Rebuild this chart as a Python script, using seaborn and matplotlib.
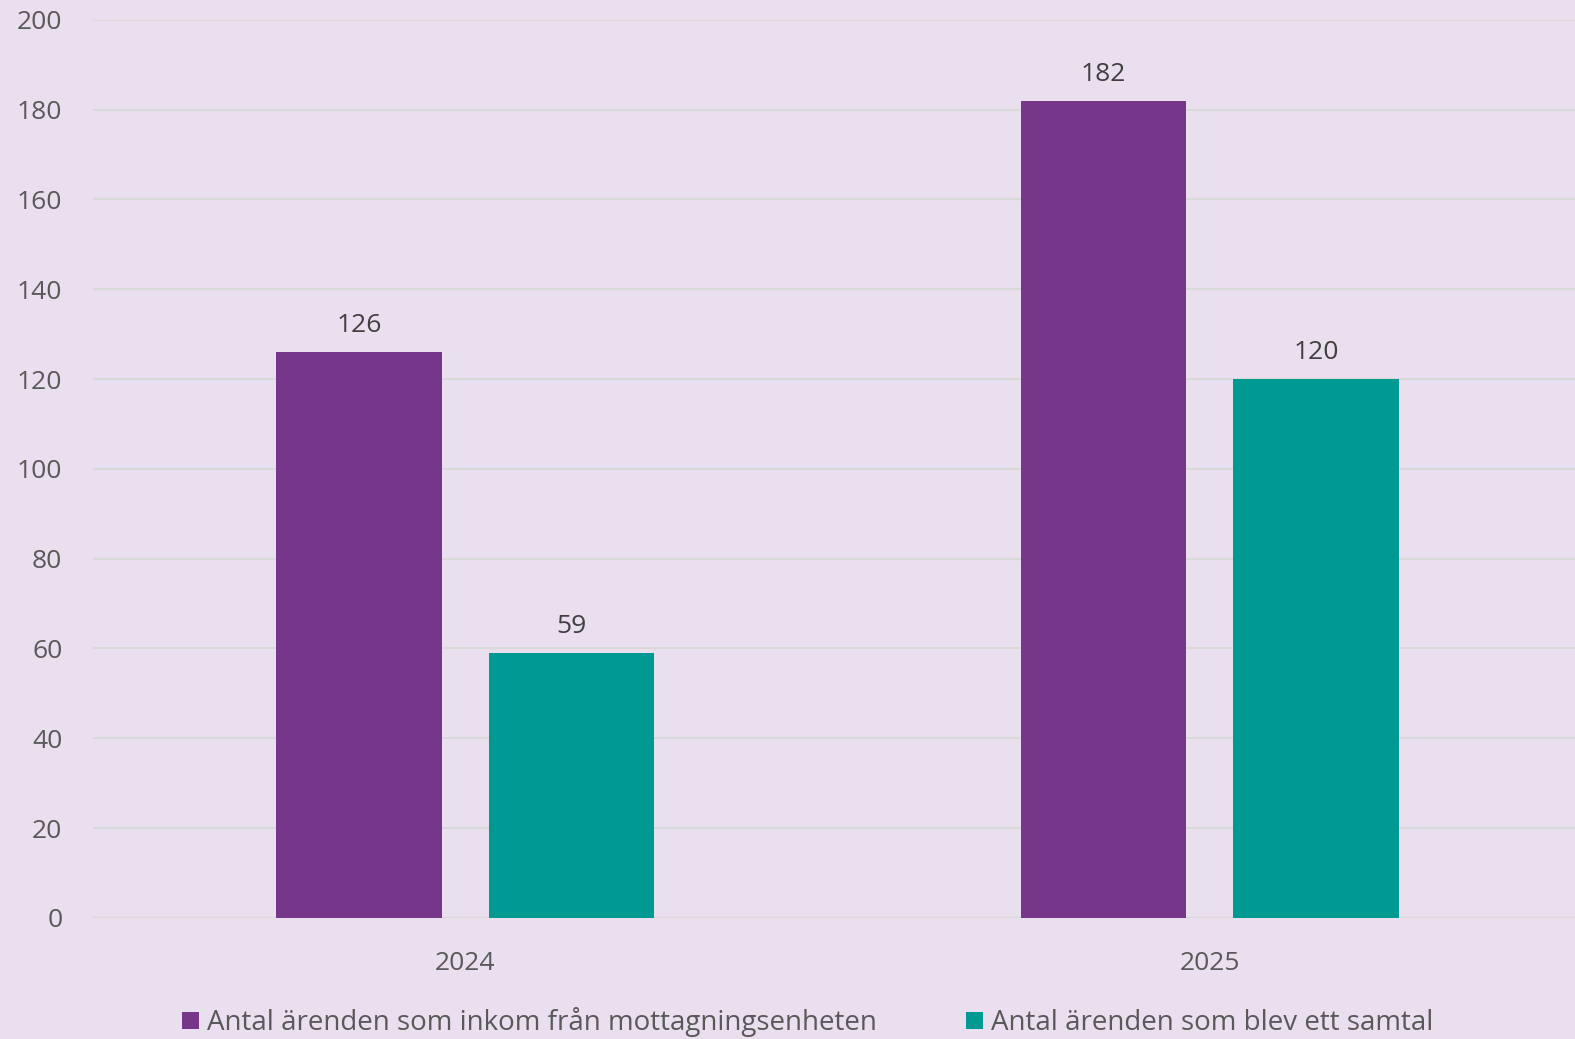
import matplotlib
matplotlib.use("Agg")
import matplotlib.pyplot as plt
import pandas as pd
import seaborn as sns

# data
years = ["2024", "2025"]
series_names = ["Antal ärenden som inkom från mottagningsenheten", "Antal ärenden som blev ett samtal"]
inkom = [126, 182]
samtal = [59, 120]
yticks = [0, 20, 40, 60, 80, 100, 120, 140, 160, 180, 200]

BG = "#E9DFEE"
PURPLE = "#76368A"
TEAL = "#009A93"
GRID = "#D9D9D9"
INK = "#595959"
LABEL_INK = "#404040"

df = pd.DataFrame({
    "year": years * 2,
    "serie": [series_names[0]] * 2 + [series_names[1]] * 2,
    "value": inkom + samtal,
})

sns.set_theme(style="white")
plt.rcParams["font.family"] = ["Open Sans", "DejaVu Sans"]

fig = plt.figure(figsize=(15.75, 10.39), dpi=100, facecolor=BG)
ax = fig.add_axes([0.059, 0.1165, 0.9454, 0.8645])
ax.set_facecolor(BG)

sns.barplot(data=df, x="year", y="value", hue="serie", hue_order=series_names,
            palette=[PURPLE, TEAL], width=0.57, gap=0.22, saturation=1,
            linewidth=0, ax=ax, legend=True)

for cont in ax.containers:
    ax.bar_label(cont, fmt="%d", padding=10, fontsize=19, color=LABEL_INK)

ax.set_xlim(-0.5, 1.5)
ax.set_ylim(0, 200)
ax.set_yticks(yticks)
ax.yaxis.grid(True, color=GRID, linewidth=1.5)
ax.set_axisbelow(True)
for s in ax.spines.values():
    s.set_visible(False)
ax.axhline(0, color=GRID, linewidth=2.5, zorder=0.5)
ax.tick_params(axis="y", length=0, pad=22, labelsize=19, labelcolor=INK)
ax.tick_params(axis="x", length=0, pad=24, labelsize=19, labelcolor=INK)
ax.set_xlabel("")
ax.set_ylabel("")

handles, labels = ax.get_legend_handles_labels()
ax.get_legend().remove()
fig.legend(handles, labels, loc="center", bbox_to_anchor=(808 / 1575, 0.016), ncol=2,
           frameon=False, fontsize=20, handlelength=0.6, handleheight=0.6,
           handletextpad=0.3, columnspacing=3.2, labelcolor=INK)

fig.savefig("out.png", dpi=100, facecolor=BG)
